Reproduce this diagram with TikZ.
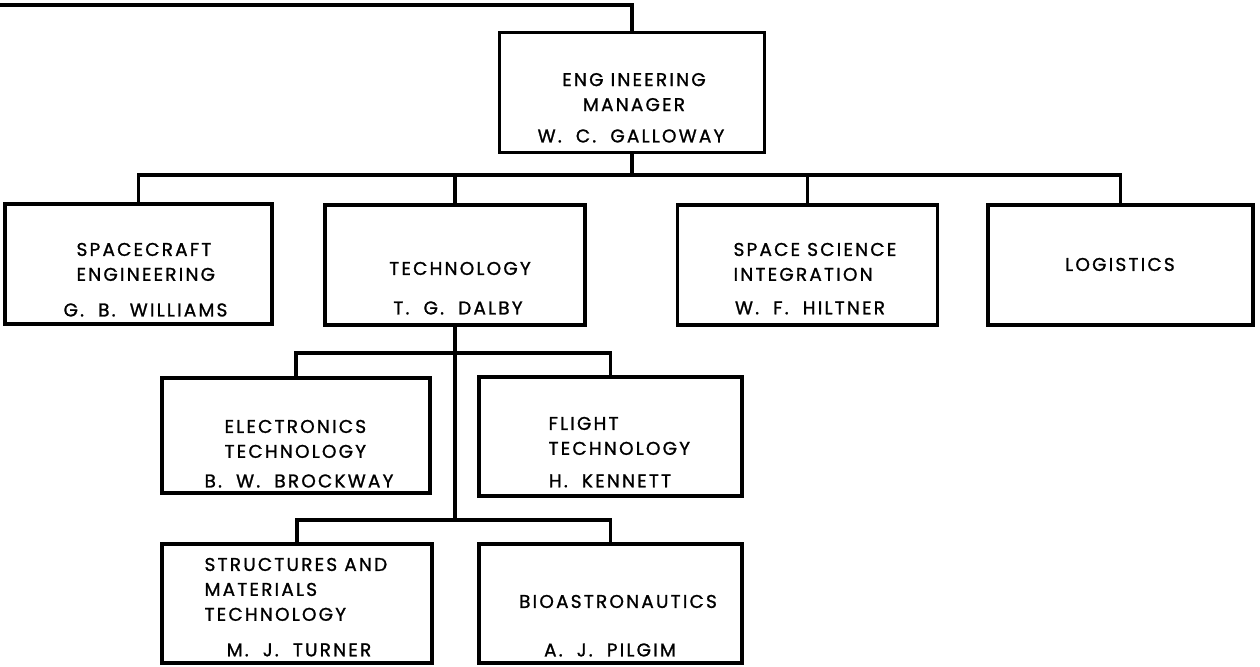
\documentclass[tikz,border=0pt]{standalone}
\usepackage{fontspec}
\setmainfont{Poppins}[LetterSpace=12,FakeBold=1.2]
\usetikzlibrary{positioning}
\newcommand\dotgap{.\hspace{4pt}\ }

\begin{document}
\begin{tikzpicture}[x=0.02cm,y=-0.02cm,line width=1.8pt,
  orgbox/.style={draw,minimum width=5.3cm,minimum height=2.4cm,inner sep=0pt},
  ttl/.style={font=\fontsize{10.5}{14.2}\selectfont,inner sep=0pt,anchor=north,align=center},
  ttlleft/.style={ttl,anchor=north west,align=left},
  who/.style={font=\fontsize{10.5}{14.2}\selectfont,inner sep=0pt,anchor=north,yshift=0.07cm}]
  \useasboundingbox (0,0) rectangle (1260,666);
  % boxes
  \node[orgbox] (mgr) at (632,92.5) {};
  \node[orgbox,minimum width=5.34cm] (sce) at (138.5,264) {};
  \node[orgbox,minimum width=5.2cm] (tech) at (455,265) {};
  \node[orgbox,minimum width=5.2cm] (ssi) at (807.5,265) {};
  \node[orgbox] (log) at (1120.5,265) {};
  \node[orgbox,minimum width=5.36cm,minimum height=2.3cm] (elec) at (296,435.5) {};
  \node[orgbox,minimum width=5.26cm,minimum height=2.38cm] (flt) at (610.5,436.5) {};
  \node[orgbox,minimum width=5.4cm,minimum height=2.38cm] (str) at (297,603.5) {};
  \node[orgbox,minimum width=5.26cm,minimum height=2.38cm] (bio) at (610.5,603.5) {};
  % texts
  \node[ttl] (mgr-t) at (634,71.5) {ENG INEERING\\MANAGER};
  \node[who] (mgr-n) at (631,131.3) {W\dotgap C\dotgap GALLOWAY};
  \node[ttlleft] (sce-t) at (75,241.3) {SPACECRAFT\\ENGINEERING};
  \node[who] (sce-n) at (145.5,305.3) {G\dotgap B\dotgap WILLIAMS};
  \node[ttl] (tech-t) at (460,260.3) {TECHNOLOGY};
  \node[who] (tech-n) at (458,303.3) {T\dotgap G\dotgap DALBY};
  \node[ttlleft] (ssi-t) at (732,241.3) {SPACE SCIENCE\\INTEGRATION};
  \node[who] (ssi-n) at (810,303.3) {W\dotgap F\dotgap HILTNER};
  \node[ttl] (log-t) at (1120,256.3) {LOGISTICS};
  \node[ttlleft] (elec-t) at (223,418.3) {ELECTRONICS\\TECHNOLOGY};
  \node[who] (elec-n) at (299,476.3) {B\dotgap W\dotgap BROCKWAY};
  \node[ttlleft] (flt-t) at (547,415.3) {FLIGHT\\TECHNOLOGY};
  \node[who] (flt-n) at (610,476.3) {H\dotgap KENNETT};
  \node[ttlleft] (str-t) at (203,556.3) {STRUCTURES AND\\MATERIALS\\TECHNOLOGY};
  \node[who] (str-n) at (299,645.3) {M\dotgap J\dotgap TURNER};
  \node[ttl] (bio-t) at (618,593.3) {BIOASTRONAUTICS};
  \node[who] (bio-n) at (610,645.3) {A\dotgap J\dotgap PILGIM};
  % lines
  \coordinate (in) at (0,5);
  \coordinate (bus2) at (632,175);
  \coordinate (bus3) at (455,353);
  \coordinate (bus4) at (455,520);
  \draw (in) -| (mgr.north);
  \draw (mgr.south) -- (bus2);
  \foreach \n in {sce,tech,ssi,log}
    \draw (\n.north) |- (bus2);
  \draw (tech.south) -- (bus4);
  \foreach \n in {elec,flt}
    \draw (\n.north) |- (bus3);
  \foreach \n in {str,bio}
    \draw (\n.north) |- (bus4);
\end{tikzpicture}
\end{document}
